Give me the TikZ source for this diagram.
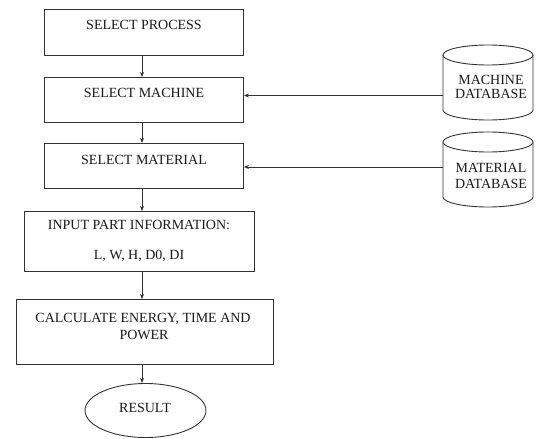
\documentclass[tikz,border=0pt]{standalone}
\usepackage{fontspec}
\setmainfont{Liberation Serif}
\usetikzlibrary{arrows.meta,shapes.geometric}
\begin{document}
\begin{tikzpicture}[x=1pt,y=1pt,
  box/.style={draw=black!80, line width=0.9pt, inner sep=0pt, anchor=north west},
  txt/.style={anchor=base, inner sep=0pt, font=\fontsize{14}{17}\selectfont, text=black!90},
  arr/.style={draw=black!80, line width=0.8pt, -{Stealth[length=5pt,width=4pt]}},
  cyl/.style={draw=black!80, line width=0.9pt}]
\useasboundingbox (0,0) rectangle (542,-439);
% boxes
\node[box, minimum width=199pt, minimum height=46pt] (b1) at (44,-9) {};
\node[box, minimum width=199pt, minimum height=45pt] (b2) at (44,-77) {};
\node[box, minimum width=199pt, minimum height=45pt] (b3) at (44,-143) {};
\node[box, minimum width=230pt, minimum height=60pt] (b4) at (24,-211) {};
\node[box, minimum width=257pt, minimum height=65pt] (b5) at (16,-299) {};
\node[draw=black!80, line width=0.9pt, ellipse, minimum width=121pt, minimum height=54pt, inner sep=0pt] (res) at (145.5,-410.5) {};
% texts
\node[txt] (t1) at (144,-30) {SELECT PROCESS};
\node[txt] (t2) at (144,-97) {SELECT MACHINE};
\node[txt] (t3) at (144,-164) {SELECT MATERIAL};
\node[txt] (t4a) at (139,-229) {INPUT PART INFORMATION:};
\node[txt] (t4b) at (139,-259) {L, W, H, D0, DI};
\node[txt] (t5a) at (143,-322) {CALCULATE ENERGY, TIME AND};
\node[txt] (t5b) at (144,-339) {POWER};
\node[txt] (tr) at (145,-412) {RESULT};
% cylinders
\draw[cyl] (443,-55) -- (443,-110) arc[start angle=180,end angle=360,x radius=45pt,y radius=10pt] -- (533,-55);
\draw[cyl] (488,-55) ellipse[x radius=45pt, y radius=10pt];
\node[inner sep=0pt, minimum width=90pt, minimum height=75pt] (mdb) at (488,-82.5) {};
\node[txt] (m1) at (491,-84) {MACHINE};
\node[txt] (m2) at (491,-99) {DATABASE};
\draw[cyl] (443,-142) -- (443,-197) arc[start angle=180,end angle=360,x radius=45pt,y radius=10pt] -- (533,-142);
\draw[cyl] (488,-142) ellipse[x radius=45pt, y radius=10pt];
\node[inner sep=0pt, minimum width=90pt, minimum height=76pt] (tdb) at (488,-169.5) {};
\node[txt] (d1) at (491,-172) {MATERIAL};
\node[txt] (d2) at (491,-188) {DATABASE};
% connectors
\coordinate (mj) at (443,-95.5);
\coordinate (dj) at (443,-167);
\coordinate (cx) at (142,0);
\draw[arr] (b1.south -| cx) -- (b2.north -| cx);
\draw[arr] (b2.south -| cx) -- (b3.north -| cx);
\draw[arr] (b3.south -| cx) -- (b4.north -| cx);
\draw[arr] (b4.south -| cx) -- (b5.north -| cx);
\draw[arr] (b5.south -| cx) -- (res.north -| cx);
\draw[arr] (mj) -- (mj -| b2.east);
\draw[arr] (dj) -- (dj -| b3.east);
\end{tikzpicture}
\end{document}
